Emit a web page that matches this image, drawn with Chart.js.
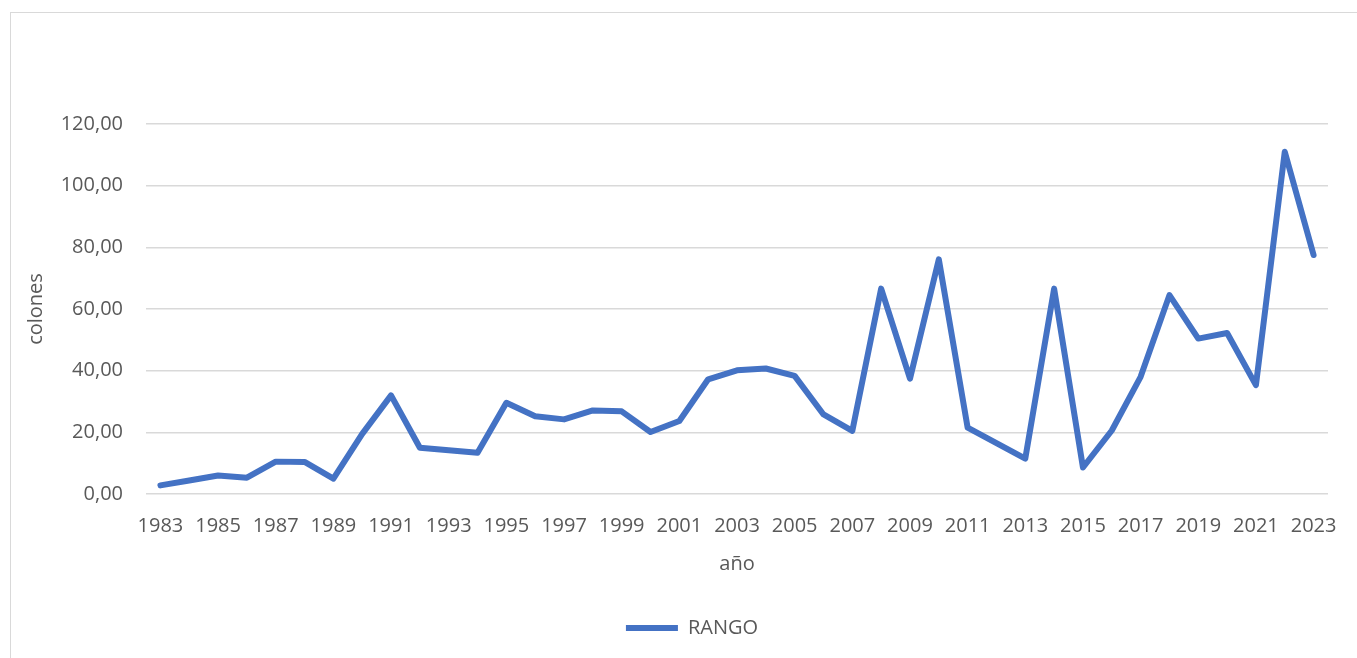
<!DOCTYPE html>
<html>
<head>
<meta charset="utf-8">
<script src="https://cdn.jsdelivr.net/npm/chart.js@4/dist/chart.umd.min.js"></script>
<style>
  html, body { margin: 0; padding: 0; background: #ffffff; overflow: hidden; }
  #wrap { position: relative; width: 1357px; height: 658px; }
</style>
</head>
<body>
<div id="wrap"><canvas id="chart" width="1357" height="658"></canvas></div>
<script>
// Años (categorías del eje X)
const years = [
  1983, 1984, 1985, 1986, 1987, 1988, 1989, 1990, 1991, 1992,
  1993, 1994, 1995, 1996, 1997, 1998, 1999, 2000, 2001, 2002,
  2003, 2004, 2005, 2006, 2007, 2008, 2009, 2010, 2011, 2012,
  2013, 2014, 2015, 2016, 2017, 2018, 2019, 2020, 2021, 2022, 2023
];

// Serie RANGO, en colones
const rango = [
  2.8, 4.4, 6.0, 5.3, 10.5, 10.4, 5.0, 19.5, 32.0, 15.0,
  14.2, 13.4, 29.6, 25.2, 24.2, 27.1, 26.8, 20.1, 23.7, 37.2,
  40.1, 40.7, 38.3, 25.8, 20.5, 66.6, 37.4, 76.1, 21.5, 16.5,
  11.5, 66.6, 8.6, 20.6, 38.0, 64.5, 50.4, 52.2, 35.3, 111.0, 77.5
];

// Marcas del eje Y
const yTicks = [0, 20, 40, 60, 80, 100, 120];

const seriesName = 'RANGO';
const xTitle = 'año';
const yTitle = 'colones';

const FONT = "'Open Sans', sans-serif";
const TEXT = '#595959';
const GRID = '#d9d9d9';
const BLUE = '#4472C4';

// Marco del gráfico y ajuste de posición de la leyenda
const framePlugin = {
  id: 'frame',
  afterLayout(chart) {
    const lg = chart.legend;
    if (lg) { lg.left += 18; lg.right += 18; }
  },
  beforeDraw(chart) {
    const ctx = chart.ctx;
    ctx.save();
    ctx.strokeStyle = GRID;
    ctx.lineWidth = 1;
    ctx.strokeRect(10.5, 12.5, 1400, 700);
    ctx.restore();
  }
};

new Chart(document.getElementById('chart'), {
  type: 'line',
  data: {
    labels: years.map(String),
    datasets: [{
      label: seriesName,
      data: rango,
      borderColor: BLUE,
      backgroundColor: BLUE,
      borderWidth: 6,
      borderCapStyle: 'round',
      borderJoinStyle: 'round',
      pointRadius: 0,
      pointHoverRadius: 0,
      tension: 0,
      fill: false
    }]
  },
  options: {
    responsive: false,
    animation: false,
    events: [],
    layout: { padding: { left: 20, right: 29, top: 124, bottom: 10 } },
    plugins: {
      tooltip: { enabled: false },
      legend: {
        display: true,
        position: 'bottom',
        labels: {
          color: TEXT,
          font: { family: FONT, size: 20 },
          usePointStyle: true,
          pointStyle: 'line',
          pointStyleWidth: 52,
          padding: 10
        }
      }
    },
    scales: {
      x: {
        type: 'category',
        offset: true,
        grid: { display: false, drawTicks: false },
        border: { display: false },
        ticks: {
          color: TEXT,
          font: { family: FONT, size: 20 },
          autoSkip: false,
          maxRotation: 0,
          minRotation: 0,
          padding: 20,
          callback: function (value, index) {
            return index % 2 === 0 ? String(years[index]) : '';
          }
        },
        title: {
          display: true,
          text: xTitle,
          color: TEXT,
          font: { family: FONT, size: 20 },
          padding: { top: 4, bottom: 32 }
        },
        afterFit(scale) { scale.height = 114; }
      },
      y: {
        min: yTicks[0],
        max: yTicks[yTicks.length - 1],
        grid: { color: GRID, lineWidth: 1.5, drawTicks: false },
        border: { display: false },
        afterBuildTicks(scale) { scale.ticks = yTicks.map(v => ({ value: v })); },
        ticks: {
          color: TEXT,
          font: { family: FONT, size: 20 },
          padding: 23,
          callback: v => v.toFixed(2).replace('.', ',')
        },
        title: {
          display: true,
          text: yTitle,
          color: TEXT,
          font: { family: FONT, size: 20 },
          padding: { top: 4, bottom: 4 }
        },
        afterFit(scale) { scale.width = 126; }
      }
    }
  },
  plugins: [framePlugin]
});
</script>
</body>
</html>
